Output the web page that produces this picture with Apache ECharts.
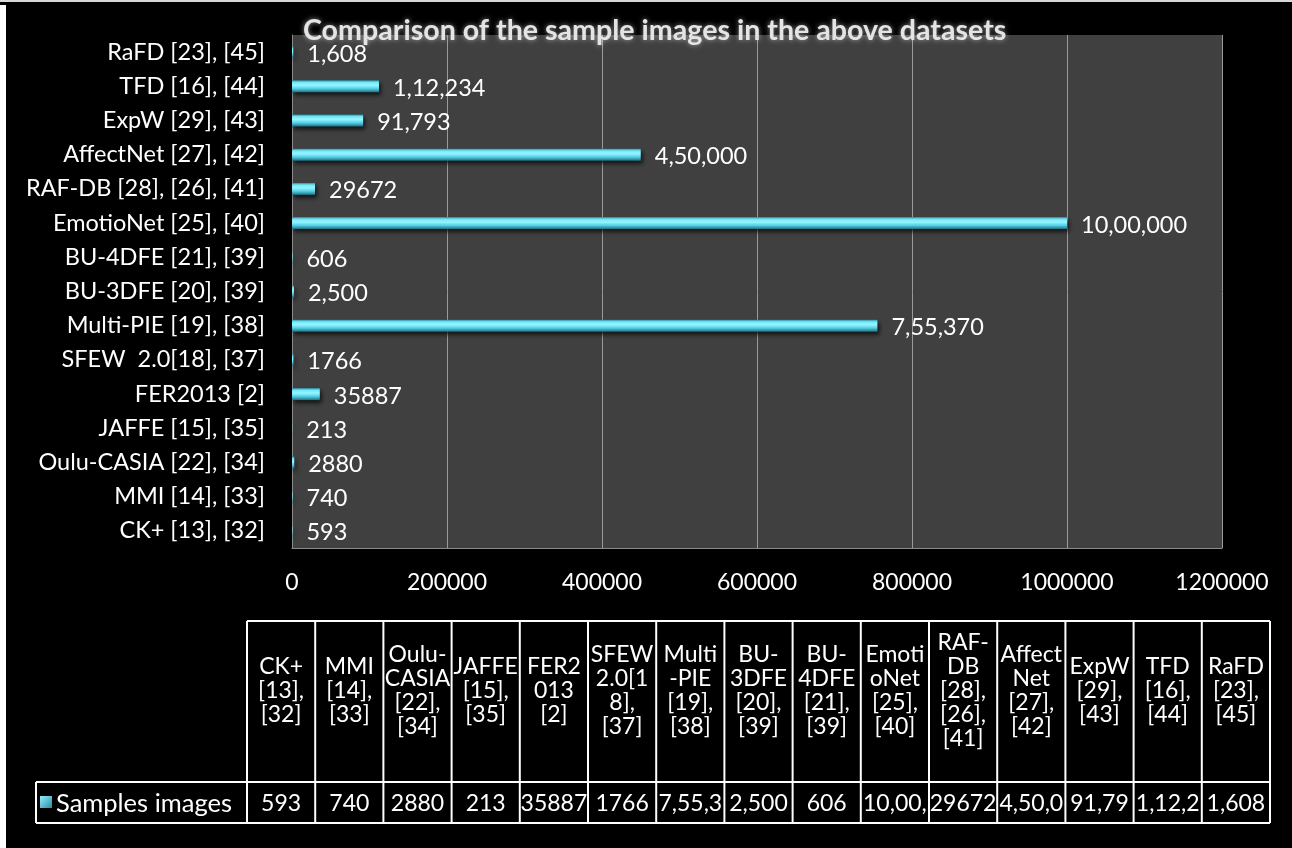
<!DOCTYPE html>
<html>
<head>
<meta charset="utf-8">
<script src="https://cdn.jsdelivr.net/npm/echarts@6/dist/echarts.min.js"></script>
<style>
html,body{margin:0;padding:0;background:#000;}
#chart{width:1292px;height:848px;}
</style>
</head>
<body>
<div id="chart"></div>
<script>
// ---- data ----
const categories = [
  'CK+ [13], [32]', 'MMI [14], [33]', 'Oulu-CASIA [22], [34]', 'JAFFE [15], [35]',
  'FER2013 [2]', 'SFEW  2.0[18], [37]', 'Multi-PIE [19], [38]', 'BU-3DFE [20], [39]',
  'BU-4DFE [21], [39]', 'EmotioNet [25], [40]', 'RAF-DB [28], [26], [41]',
  'AffectNet [27], [42]', 'ExpW [29], [43]', 'TFD [16], [44]', 'RaFD [23], [45]'
];
const sampleImages = [593, 740, 2880, 213, 35887, 1766, 755370, 2500, 606, 1000000, 29672, 450000, 91793, 112234, 1608];
const valueLabels = ['593', '740', '2880', '213', '35887', '1766', '7,55,370', '2,500', '606', '10,00,000', '29672', '4,50,000', '91,793', '1,12,234', '1,608'];
const tableHeaders = [
  'CK+\n[13],\n[32]', 'MMI\n[14],\n[33]', 'Oulu-\nCASIA\n[22],\n[34]', 'JAFFE\n[15],\n[35]',
  'FER2\n013\n[2]', 'SFEW\n2.0[1\n8],\n[37]', 'Multi\n-PIE\n[19],\n[38]', 'BU-\n3DFE\n[20],\n[39]',
  'BU-\n4DFE\n[21],\n[39]', 'Emoti\noNet\n[25],\n[40]', 'RAF-\nDB\n[28],\n[26],\n[41]',
  'Affect\nNet\n[27],\n[42]', 'ExpW\n[29],\n[43]', 'TFD\n[16],\n[44]', 'RaFD\n[23],\n[45]'
];
const seriesName = 'Samples images';
const titleText = 'Comparison of the sample images in the above datasets';

// ---- layout ----
const FONT = 'Lato';
const tblLeft = 247, tblRight = 1270, tblTop = 621, tblMid = 782, tblBottom = 823, legLeft = 36;
const colW = (tblRight - tblLeft) / categories.length;

const barGradient = {
  type: 'linear', x: 0, y: 0, x2: 0, y2: 1,
  colorStops: [
    {offset: 0, color: '#2a8ea2'},
    {offset: 0.18, color: '#76e8f8'},
    {offset: 0.42, color: '#95f5ff'},
    {offset: 0.7, color: '#52cde4'},
    {offset: 1, color: '#1e6f82'}
  ]
};

const graphics = [];
// decorative page edges
graphics.push({type: 'rect', shape: {x: 0, y: 5, width: 6, height: 843}, style: {fill: '#ffffff'}, silent: true});
graphics.push({type: 'rect', shape: {x: 0, y: 0, width: 1292, height: 2}, style: {fill: '#d8d8d8'}, silent: true});

const lineStyle = {stroke: '#ffffff', lineWidth: 2};
graphics.push({type: 'line', shape: {x1: tblLeft, y1: tblTop, x2: tblRight, y2: tblTop}, style: lineStyle});
graphics.push({type: 'line', shape: {x1: legLeft, y1: tblMid, x2: tblRight, y2: tblMid}, style: lineStyle});
graphics.push({type: 'line', shape: {x1: legLeft, y1: tblBottom, x2: tblRight, y2: tblBottom}, style: lineStyle});
graphics.push({type: 'line', shape: {x1: legLeft, y1: tblMid, x2: legLeft, y2: tblBottom}, style: lineStyle});
for (let i = 0; i <= categories.length; i++) {
  const x = tblLeft + i * colW;
  graphics.push({type: 'line', shape: {x1: x, y1: tblTop, x2: x, y2: tblBottom}, style: lineStyle});
}
for (let i = 0; i < categories.length; i++) {
  const cx = tblLeft + (i + 0.5) * colW;
  graphics.push({
    type: 'text', x: cx, y: 691,
    style: {text: tableHeaders[i], fill: '#ffffff', font: '23px ' + FONT, align: 'center', verticalAlign: 'middle', lineHeight: 24}
  });
  graphics.push({
    type: 'text', x: cx, y: (tblMid + tblBottom) / 2 + 1,
    style: {text: valueLabels[i], fill: '#ffffff', font: '23px ' + FONT, align: 'center', verticalAlign: 'middle',
            width: colW + 2, overflow: 'truncate', ellipsis: ''}
  });
}
// legend key in table
graphics.push({type: 'rect', shape: {x: 40, y: 796, width: 12, height: 12}, style: {fill: {type: 'linear', x: 0, y: 0, x2: 1, y2: 1, colorStops: [{offset: 0, color: '#8ff0ff'}, {offset: 1, color: '#2a8ea2'}]}}});
graphics.push({type: 'text', x: 56, y: (tblMid + tblBottom) / 2 + 1, style: {text: seriesName, fill: '#ffffff', font: '25.5px ' + FONT, verticalAlign: 'middle'}});

const chart = echarts.init(document.getElementById('chart'));
chart.setOption({
  backgroundColor: '#000000',
  animation: false,
  title: {
    text: titleText, left: 298, top: 11,
    textStyle: {color: '#e4e4e4', fontFamily: FONT, fontWeight: 'bold', fontSize: 28.6,
                textShadowColor: 'rgba(255,255,255,0.55)', textShadowBlur: 5}
  },
  grid: {left: 292, right: 70, top: 35, bottom: 300, show: true, backgroundColor: '#404040', borderWidth: 0},
  xAxis: {
    type: 'value', min: 0, max: 1200000, interval: 200000,
    axisLine: {show: true, lineStyle: {color: '#8c8c8c', width: 1}},
    axisTick: {show: false},
    splitLine: {show: true, lineStyle: {color: '#9a9a9a', width: 1}},
    axisLabel: {color: '#ffffff', fontFamily: FONT, fontSize: 23, margin: 23, formatter: v => String(v)}
  },
  yAxis: {
    type: 'category', data: categories,
    axisLine: {show: true, lineStyle: {color: '#8c8c8c'}},
    axisTick: {show: false},
    axisLabel: {color: '#ffffff', fontFamily: FONT, fontSize: 23.5, margin: 27}
  },
  series: [{
    name: seriesName, type: 'bar', data: sampleImages, barWidth: 12,
    itemStyle: {color: barGradient, shadowColor: 'rgba(0,0,0,0.7)', shadowBlur: 4, shadowOffsetX: 2, shadowOffsetY: 3},
    label: {show: true, position: 'right', distance: 14, offset: [0, 2], color: '#ffffff', fontFamily: FONT, fontSize: 23.5,
            formatter: p => valueLabels[p.dataIndex]}
  }],
  graphic: graphics
});
</script>
</body>
</html>
